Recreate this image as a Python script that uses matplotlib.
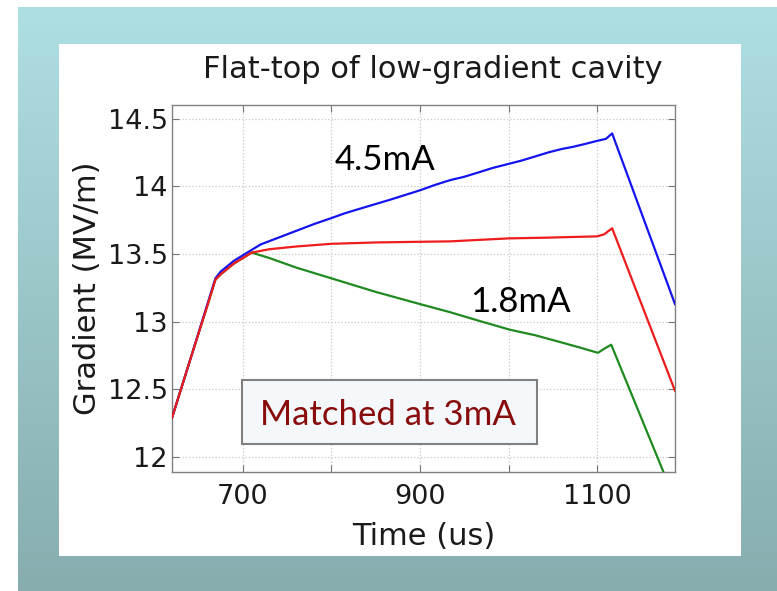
import numpy as np
import matplotlib.pyplot as plt
from matplotlib.patches import Rectangle

# Data (time in us, gradient in MV/m)
t_blue = [620, 643, 660, 669, 675, 690, 710, 720, 740, 760, 780, 800, 815, 830, 848, 866,
          883, 900, 917, 934, 950, 965, 982, 1000, 1015, 1030, 1045, 1060, 1072, 1085,
          1100, 1110, 1117, 1188]
g_blue = [12.29, 12.77, 13.13, 13.32, 13.37, 13.45, 13.53, 13.57, 13.62, 13.67, 13.72, 13.765,
          13.80, 13.83, 13.865, 13.90, 13.935, 13.97, 14.01, 14.045, 14.07, 14.10, 14.135,
          14.165, 14.19, 14.22, 14.25, 14.275, 14.29, 14.31, 14.335, 14.35, 14.39, 13.13]

t_red = [620, 643, 660, 669, 675, 690, 710, 730, 760, 800, 850, 900, 934, 970, 1000,
         1040, 1070, 1100, 1108, 1117, 1188]
g_red = [12.29, 12.77, 13.12, 13.31, 13.35, 13.43, 13.51, 13.535, 13.555, 13.575, 13.585,
         13.59, 13.593, 13.605, 13.615, 13.62, 13.625, 13.63, 13.645, 13.69, 12.49]

t_green = [620, 643, 660, 669, 675, 690, 710, 730, 760, 800, 850, 900, 934, 970, 1002,
           1030, 1058, 1080, 1101, 1108, 1116, 1180]
g_green = [12.29, 12.77, 13.12, 13.31, 13.35, 13.43, 13.51, 13.47, 13.40, 13.32, 13.22,
           13.13, 13.07, 13.00, 12.94, 12.90, 12.85, 12.81, 12.77, 12.80, 12.83, 11.81]

x_ticks = [700, 800, 900, 1000, 1100]
x_labels = ['700', '', '900', '', '1100']
y_ticks = [12, 12.5, 13, 13.5, 14, 14.5]
y_labels = ['12', '12.5', '13', '13.5', '14', '14.5']

W, H = 777, 591
fig = plt.figure(figsize=(W / 100, H / 100), dpi=100)
fig.patch.set_facecolor('white')

# slide background gradient
bg = fig.add_axes([18 / W, 0, 1 - 18 / W, (H - 7) / H])
top = np.array([174, 223, 226]) / 255
bot = np.array([135, 173, 175]) / 255
grad = np.linspace(0, 1, 256)[:, None, None] * (bot - top) + top
bg.imshow(grad, aspect='auto', extent=[0, 1, 0, 1])
bg.axis('off')

# white panel
panel = fig.add_axes([59 / W, (H - 556) / H, (741 - 59) / W, (556 - 44) / H])
panel.set_facecolor('white')
panel.set_xticks([])
panel.set_yticks([])
for s in panel.spines.values():
    s.set_visible(False)

ax = fig.add_axes([172 / W, (H - 472) / H, (675 - 172) / W, (472 - 105) / H])
ax.set_facecolor('white')

lw = 1.6
ax.plot(t_green, g_green, color='#1f8a1f', lw=lw, zorder=3)
ax.plot(t_blue, g_blue, color='#1414f0', lw=lw, zorder=4)
ax.plot(t_red, g_red, color='#ee1c1c', lw=lw, zorder=5)

ax.set_xlim(620, 1188)
ax.set_ylim(11.89, 14.6)
ax.set_xticks(x_ticks)
ax.set_xticklabels(x_labels)
ax.set_yticks(y_ticks)
ax.set_yticklabels(y_labels)
ax.grid(True, linestyle=':', color='#c8c8c8', lw=0.9)
ax.tick_params(direction='in', top=True, right=True, length=5, color='#777777',
               labelsize=19.5, labelcolor='#1a1a1a')
ax.tick_params(axis='x', pad=9)
ax.tick_params(axis='y', pad=3)
for s in ax.spines.values():
    s.set_color('#808080')
    s.set_linewidth(1.0)

ax.set_xlabel('Time (us)', fontsize=22, color='#1a1a1a', va='center')
ax.xaxis.set_label_coords(0.5, -0.177)
ax.set_ylabel('Gradient (MV/m)', fontsize=22, color='#1a1a1a', va='center')
ax.yaxis.set_label_coords(-0.167, 0.5)

fig.text(433 / W, (H - 78) / H, 'Flat-top of low-gradient cavity', fontsize=22,
         color='#1a1a1a', ha='center', va='baseline')

ax.text(860, 14.12, '4.5mA', fontsize=25, family='Lato', ha='center', va='baseline',
        color='black', zorder=6)
ax.text(1013, 13.068, '1.8mA', fontsize=25, family='Lato', ha='center', va='baseline',
        color='black', zorder=6)

box = Rectangle((0.139, 0.0763), 0.7256 - 0.139, 0.2507 - 0.0763, transform=ax.transAxes,
                facecolor='#f4f8fa', edgecolor='#808080', lw=1.5, zorder=6)
ax.add_patch(box)
ax.text(0.4294, 0.128, 'Matched at 3mA', transform=ax.transAxes, fontsize=25, family='Lato',
        color='#880c0c', ha='center', va='baseline', zorder=7)

fig.savefig('out.png', dpi=100)
